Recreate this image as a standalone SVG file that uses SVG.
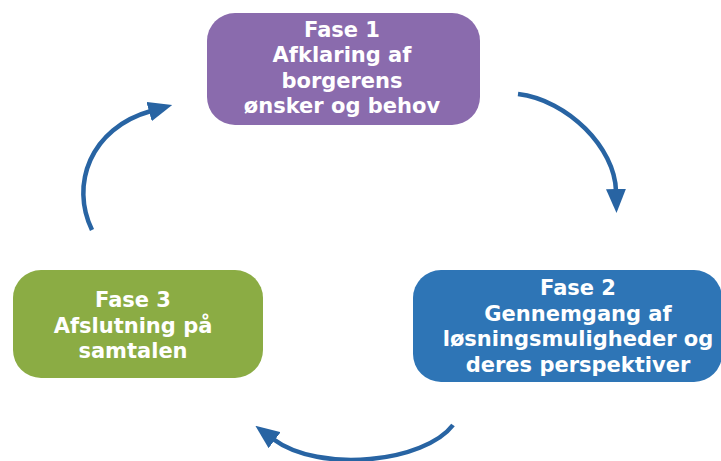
<svg xmlns="http://www.w3.org/2000/svg" width="721" height="461" viewBox="0 0 721 461">
<style>
.lbl{font-family:"DejaVu Sans","Verdana",sans-serif;font-weight:bold;font-size:21px;fill:#ffffff;text-anchor:middle}
.conn{fill:none;stroke:#2864A3;stroke-width:4.5}
</style>
<defs>
<marker id="ah" markerUnits="userSpaceOnUse" markerWidth="24" markerHeight="20" viewBox="0 0 24 20" refX="2" refY="10" orient="auto">
<path d="M0,0 L24,10 L0,20 z" fill="#2864A3"/>
</marker>
</defs>
<rect width="721" height="461" fill="#ffffff"/>
<g id="connectors">
<path class="conn" d="M518,94 C568,100 615,148 616,191" marker-end="url(#ah)"/>
<path class="conn" d="M453,425 C425,462 320,474 273,439" marker-end="url(#ah)"/>
<path class="conn" d="M92,230 C70,185 90,128 151,111" marker-end="url(#ah)"/>
</g>
<g id="fase1">
<rect x="207" y="13" width="273" height="112" rx="28" fill="#8A6BAD"/>
<text class="lbl" x="342" y="36.5">Fase 1</text>
<text class="lbl" x="342" y="62">Afklaring af</text>
<text class="lbl" x="342" y="87.5">borgerens</text>
<text class="lbl" x="342" y="113">ønsker og behov</text>
</g>
<g id="fase2">
<rect x="413" y="270" width="309" height="112" rx="28" fill="#2E75B6"/>
<text class="lbl" x="578" y="295">Fase 2</text>
<text class="lbl" x="578" y="320.5">Gennemgang af</text>
<text class="lbl" x="578" y="346">løsningsmuligheder og</text>
<text class="lbl" x="578" y="371.5">deres perspektiver</text>
</g>
<g id="fase3">
<rect x="13" y="270" width="250" height="108" rx="28" fill="#8BAC44"/>
<text class="lbl" x="133" y="307">Fase 3</text>
<text class="lbl" x="133" y="332.5">Afslutning på</text>
<text class="lbl" x="133" y="358">samtalen</text>
</g>
</svg>
